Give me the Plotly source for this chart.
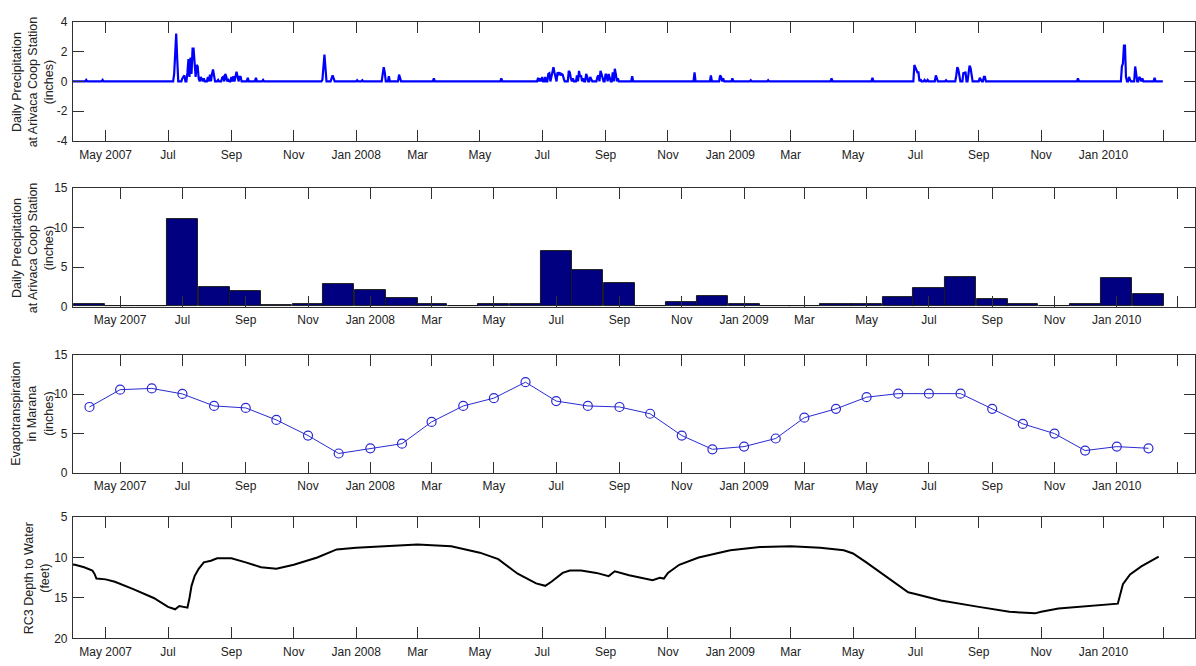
import pandas as pd
import plotly.graph_objects as go

# ---------------- data ----------------
# Panel 1: daily precipitation (inches) - days with non-zero rain; all other days are 0
rain_dates = [
    "2007-04-12", "2007-04-28",
    "2007-07-07", "2007-07-08", "2007-07-09", "2007-07-10", "2007-07-15", "2007-07-16", "2007-07-17",
    "2007-07-20", "2007-07-21", "2007-07-22", "2007-07-23", "2007-07-24", "2007-07-25", "2007-07-26",
    "2007-07-27", "2007-07-28", "2007-07-29", "2007-07-30", "2007-07-31", "2007-08-02", "2007-08-03",
    "2007-08-05", "2007-08-09", "2007-08-11", "2007-08-13", "2007-08-14", "2007-08-15", "2007-08-19",
    "2007-08-23", "2007-08-24", "2007-08-26", "2007-08-27", "2007-08-29", "2007-09-01", "2007-09-03",
    "2007-09-05", "2007-09-06", "2007-09-07", "2007-09-09", "2007-09-10", "2007-09-17", "2007-09-25",
    "2007-10-02", "2007-11-13", "2007-11-29", "2007-11-30", "2007-12-01", "2007-12-02", "2007-12-08",
    "2007-12-09", "2007-12-10",
    "2008-01-02", "2008-01-07", "2008-01-27", "2008-01-28", "2008-01-29", "2008-02-02", "2008-02-12",
    "2008-02-13", "2008-03-17", "2008-05-22", "2008-06-27", "2008-06-29", "2008-07-01", "2008-07-04",
    "2008-07-07", "2008-07-08", "2008-07-10", "2008-07-11", "2008-07-12", "2008-07-13", "2008-07-14",
    "2008-07-16", "2008-07-17", "2008-07-18", "2008-07-19", "2008-07-20", "2008-07-21", "2008-07-22",
    "2008-07-27", "2008-07-28", "2008-07-29", "2008-07-31", "2008-08-04", "2008-08-06", "2008-08-07",
    "2008-08-08", "2008-08-10", "2008-08-13", "2008-08-14", "2008-08-17", "2008-08-18", "2008-08-24",
    "2008-08-25", "2008-08-27", "2008-08-28", "2008-08-29", "2008-09-01", "2008-09-02", "2008-09-04",
    "2008-09-05", "2008-09-08", "2008-09-10", "2008-09-11", "2008-09-13", "2008-09-27", "2008-11-27",
    "2008-12-13", "2008-12-22", "2008-12-23", "2008-12-25",
    "2009-01-03", "2009-01-21", "2009-02-07", "2009-04-10", "2009-05-20", "2009-06-09", "2009-06-30",
    "2009-07-01", "2009-07-02", "2009-07-03", "2009-07-04", "2009-07-06", "2009-07-10", "2009-07-13",
    "2009-07-21", "2009-07-22", "2009-07-31", "2009-08-10", "2009-08-11", "2009-08-12", "2009-08-13",
    "2009-08-17", "2009-08-18", "2009-08-19", "2009-08-22", "2009-08-23", "2009-08-24", "2009-08-25",
    "2009-09-02", "2009-09-03", "2009-09-06", "2009-09-07", "2009-09-11", "2009-10-03", "2009-10-26",
    "2009-11-28", "2009-12-07", "2009-12-21",
    "2010-01-19", "2010-01-20", "2010-01-21", "2010-01-22", "2010-01-23", "2010-01-26", "2010-01-27",
    "2010-02-01", "2010-02-02", "2010-02-05", "2010-02-06", "2010-02-08", "2010-02-20",
]
rain_values = [
    0.1, 0.1,
    0.5, 2.3, 3.2, 1.5, 0.2, 0.35, 0.4,
    0.6, 1.5, 0.3, 1.6, 0.5, 2.2, 2.2,
    1.2, 0.3, 1.1, 1.0, 0.2, 0.3, 0.1,
    0.2, 0.3, 0.45, 0.5, 0.8, 0.4, 0.1,
    0.25, 0.3, 0.5, 0.3, 0.1, 0.3, 0.35,
    0.4, 0.65, 0.35, 0.3, 0.3, 0.25, 0.25,
    0.1, 0.05, 0.1, 0.8, 1.8, 0.9, 0.2,
    0.4, 0.2,
    0.08, 0.08, 0.5, 0.95, 0.6, 0.35, 0.45,
    0.2, 0.2, 0.2, 0.25, 0.2, 0.3, 0.3,
    0.5, 0.55, 0.3, 0.7, 0.95, 0.6, 0.2,
    0.6, 0.5, 0.6, 0.4, 0.5, 0.45, 0.2,
    0.7, 0.6, 0.2, 0.2, 0.4, 0.7, 0.3,
    0.4, 0.2, 0.5, 0.3, 0.3, 0.15, 0.3,
    0.4, 0.7, 0.5, 0.3, 0.5, 0.4, 0.5,
    0.3, 0.6, 0.85, 0.5, 0.2, 0.35, 0.6,
    0.4, 0.4, 0.3, 0.2,
    0.2, 0.08, 0.08, 0.2, 0.25, 0.05, 1.1,
    0.9, 0.7, 0.6, 0.6, 0.15, 0.1, 0.1,
    0.4, 0.15, 0.08, 0.4, 0.95, 0.8, 0.3,
    0.6, 0.5, 0.65, 0.6, 1.05, 0.9, 0.35,
    0.25, 0.1, 0.3, 0.3, 0.05, 0.05, 0.05,
    0.05, 0.2, 0.05,
    1.0, 1.2, 2.4, 2.4, 0.3, 0.3, 0.1,
    1.0, 0.6, 0.3, 0.2, 0.2, 0.25,
]
daily_start = "2007-03-25"
daily_end = "2010-02-28"

# Panel 2 & 3: monthly values (Apr 2007 - Feb 2010)
months = [
    "2007-04-01", "2007-05-01", "2007-06-01", "2007-07-01", "2007-08-01", "2007-09-01", "2007-10-01",
    "2007-11-01", "2007-12-01", "2008-01-01", "2008-02-01", "2008-03-01", "2008-04-01", "2008-05-01",
    "2008-06-01", "2008-07-01", "2008-08-01", "2008-09-01", "2008-10-01", "2008-11-01", "2008-12-01",
    "2009-01-01", "2009-02-01", "2009-03-01", "2009-04-01", "2009-05-01", "2009-06-01", "2009-07-01",
    "2009-08-01", "2009-09-01", "2009-10-01", "2009-11-01", "2009-12-01", "2010-01-01", "2010-02-01",
]
monthly_precip = [
    0.25, 0.0, 0.0, 11.1, 2.5, 1.9, 0.2,
    0.37, 2.85, 2.1, 1.05, 0.37, 0.0, 0.25,
    0.37, 7.0, 4.6, 3.0, 0.0, 0.62, 1.27,
    0.25, 0.08, 0.08, 0.25, 0.37, 1.15, 2.3,
    3.78, 0.9, 0.25, 0.08, 0.25, 3.66, 1.52,
]
evapotranspiration = [
    8.36, 10.55, 10.71, 10.01, 8.49, 8.24, 6.72,
    4.74, 2.47, 3.13, 3.71, 6.47, 8.49, 9.48,
    11.5, 9.11, 8.49, 8.36, 7.5, 4.74, 3.0,
    3.34, 4.37, 7.0, 8.12, 9.6, 10.05, 10.05,
    10.05, 8.12, 6.22, 4.99, 2.84, 3.34, 3.13,
]

# Panel 4: RC3 depth to water (feet)
dtw_dates = [
    "2007-03-25", "2007-04-01", "2007-04-10", "2007-04-18", "2007-04-20", "2007-04-22", "2007-05-01",
    "2007-05-10", "2007-05-28", "2007-06-17", "2007-07-01", "2007-07-08", "2007-07-12", "2007-07-16",
    "2007-07-20", "2007-07-22", "2007-07-24", "2007-07-27", "2007-07-31", "2007-08-05", "2007-08-12",
    "2007-08-18", "2007-09-01", "2007-09-15", "2007-09-30", "2007-10-15", "2007-11-01", "2007-11-24",
    "2007-12-13", "2008-01-01", "2008-01-27", "2008-03-01", "2008-04-03", "2008-05-01", "2008-05-19",
    "2008-06-07", "2008-06-25", "2008-07-04", "2008-07-10", "2008-07-21", "2008-07-28", "2008-08-08",
    "2008-08-23", "2008-09-04", "2008-09-10", "2008-09-24", "2008-10-17", "2008-10-24", "2008-10-28",
    "2008-11-01", "2008-11-12", "2008-12-01", "2009-01-01", "2009-01-30", "2009-03-01", "2009-03-30",
    "2009-04-22", "2009-05-01", "2009-05-14", "2009-06-02", "2009-06-24", "2009-07-01", "2009-07-26",
    "2009-09-01", "2009-10-01", "2009-10-26", "2009-11-01", "2009-11-18", "2010-01-01", "2010-01-15",
    "2010-01-20", "2010-01-27", "2010-02-07", "2010-02-24",
]
dtw_values = [
    10.8, 10.9, 11.2, 11.6, 12.0, 12.6, 12.7,
    13.0, 13.9, 15.0, 16.1, 16.4, 16.0, 16.1,
    16.2, 15.0, 13.5, 12.3, 11.4, 10.6, 10.4,
    10.1, 10.1, 10.6, 11.2, 11.4, 10.9, 10.0,
    9.0, 8.8, 8.6, 8.4, 8.6, 9.4, 10.2,
    12.0, 13.2, 13.5, 13.0, 11.9, 11.6, 11.6,
    11.9, 12.3, 11.7, 12.2, 12.8, 12.5, 12.6,
    11.9, 10.9, 10.0, 9.1, 8.7, 8.6, 8.8,
    9.1, 9.5, 10.6, 12.3, 14.3, 14.5, 15.3,
    16.1, 16.7, 16.9, 16.7, 16.3, 15.8, 15.7,
    13.3, 12.1, 11.1, 9.9,
]

tick_dates = [
    "2007-05-01", "2007-07-01", "2007-09-01", "2007-11-01", "2008-01-01", "2008-03-01",
    "2008-05-01", "2008-07-01", "2008-09-01", "2008-11-01", "2009-01-01", "2009-03-01",
    "2009-05-01", "2009-07-01", "2009-09-01", "2009-11-01", "2010-01-01", "2010-03-01",
]
tick_labels = [
    "May 2007", "Jul", "Sep", "Nov", "Jan 2008", "Mar",
    "May", "Jul", "Sep", "Nov", "Jan 2009", "Mar",
    "May", "Jul", "Sep", "Nov", "Jan 2010", "",
]

y_titles = [
    "Daily Precipitation<br>at Arivaca Coop Station<br>(inches)",
    "Daily Precipitation<br>at Arivaca Coop Station<br>(inches)",
    "Evapotranspiration<br>in Marana<br>(inches)",
    "RC3 Depth to Water<br>(feet)",
]

# ---------------- build daily series ----------------
daily_index = pd.date_range(daily_start, daily_end, freq="D")
daily = pd.Series(0.0, index=daily_index)
daily.loc[pd.to_datetime(rain_dates)] = rain_values

# ---------------- figure ----------------
W, H = 1196, 666
LINE = "#303030"
TICKFONT = dict(family="Liberation Sans Narrow, Arial Narrow, Liberation Sans, Arial, sans-serif",
                size=12, color="#222222")

fig = go.Figure()
fig.add_trace(go.Scatter(x=daily.index, y=daily.values, mode="lines",
                         line=dict(color="#0000FF", width=2.2), xaxis="x", yaxis="y",
                         showlegend=False))
fig.add_trace(go.Bar(x=months, y=monthly_precip, width=[30.44 * 86400000] * len(months),
                     marker=dict(color="#000080", line=dict(color="#1a1a1a", width=1)),
                     xaxis="x2", yaxis="y2", showlegend=False))
fig.add_trace(go.Scatter(x=months, y=evapotranspiration, mode="lines+markers",
                         line=dict(color="#2a2ad0", width=1),
                         marker=dict(symbol="circle-open", size=9, color="#2a2ad0",
                                     line=dict(width=1.2, color="#2a2ad0")),
                         xaxis="x3", yaxis="y3", showlegend=False))
fig.add_trace(go.Scatter(x=dtw_dates, y=dtw_values, mode="lines",
                         line=dict(color="black", width=2), xaxis="x4", yaxis="y4",
                         showlegend=False))

# pixel boxes of panels (top, bottom)
boxes = [(15, 137), (185, 306), (355, 476), (521, 645)]
xranges = [
    ["2007-03-30 00:00", "2010-03-31 12:00"],
    ["2007-03-15 19:00", "2010-03-18 14:00"],
    ["2007-03-15 19:00", "2010-03-18 14:00"],
    ["2007-03-30 00:00", "2010-03-31 12:00"],
]
yranges = [[-4, 4], [0, 15], [0, 15], [20, 5]]
ytickvals = [[-4, -2, 0, 2, 4], [0, 5, 10, 15], [0, 5, 10, 15], [5, 10, 15, 20]]
left_px = 73

axis_common = dict(showline=True, linecolor=LINE, linewidth=1, mirror="ticks",
                   ticks="inside", ticklen=11, tickcolor=LINE, tickwidth=1,
                   showgrid=False, zeroline=False, tickfont=TICKFONT)

layout = dict(width=W, height=H, margin=dict(l=0, r=0, t=0, b=0),
              paper_bgcolor="white", plot_bgcolor="white", showlegend=False,
              bargap=0)
annotations = []
for i, (top, bot) in enumerate(boxes):
    sfx = "" if i == 0 else str(i + 1)
    layout["xaxis" + sfx] = dict(
        axis_common, type="date", domain=[left_px / W, 1.0], anchor="y" + sfx,
        range=xranges[i], tickmode="array", tickvals=tick_dates, ticktext=tick_labels,
        ticklabelstandoff=2,
    )
    layout["yaxis" + sfx] = dict(
        axis_common, domain=[1 - bot / H, 1 - top / H], anchor="x" + sfx,
        range=yranges[i], tickmode="array", tickvals=ytickvals[i],
        ticktext=[str(v) for v in ytickvals[i]], ticklabelstandoff=2,
    )
    xc = 36.5 if i == 3 else 33
    annotations.append(dict(
        text=y_titles[i], textangle=-90, xref="paper", yref="paper",
        x=xc / W, y=1 - (top + bot) / 2 / H, xanchor="center", yanchor="middle",
        showarrow=False,
        font=dict(family="Liberation Sans, Arial, sans-serif", size=12.5, color="#222222"),
    ))
layout["annotations"] = annotations
fig.update_layout(**layout)

fig.write_html(
    "out.html",
    config={"displayModeBar": False},
    post_script="document.body.style.margin='0';document.body.style.overflow='hidden';",
)
